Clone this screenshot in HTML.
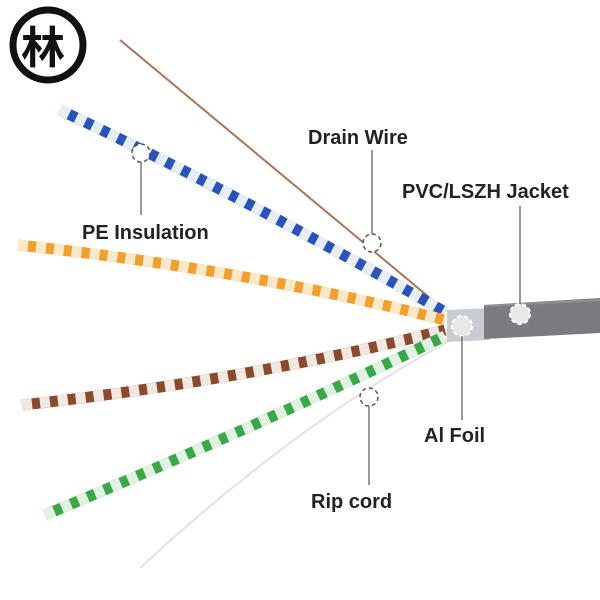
<!DOCTYPE html>
<html><head><style>
html,body{margin:0;padding:0;background:#fff}
svg{display:block}
text{font-family:"Liberation Sans",sans-serif;font-weight:bold;font-size:20px;fill:#222}
</style></head><body>
<svg width="600" height="600" viewBox="0 0 600 600" xmlns="http://www.w3.org/2000/svg">
<circle cx="48" cy="45" r="35" fill="none" stroke="#111" stroke-width="7"/>
<text x="21" y="63" style="font-family:'Noto Sans CJK SC',sans-serif;font-size:44px;fill:#111">林</text>
<line x1="120" y1="40" x2="442" y2="308" stroke="#a8765a" stroke-width="2"/>
<path d="M60,110 Q250,200 445,312" fill="none" stroke="#2a52b8" stroke-width="11"/>
<path d="M60,110 Q250,200 445,312" fill="none" stroke="#e8eef5" stroke-width="11" stroke-dasharray="10 8"/>
<path d="M18,245 Q250,270 445,320" fill="none" stroke="#f0a030" stroke-width="11"/>
<path d="M18,245 Q250,270 445,320" fill="none" stroke="#fbe8c8" stroke-width="11" stroke-dasharray="10 8"/>
<path d="M22,405 Q250,380 445,330" fill="none" stroke="#8a4a2e" stroke-width="11"/>
<path d="M22,405 Q250,380 445,330" fill="none" stroke="#f2e8e2" stroke-width="11" stroke-dasharray="10 8"/>
<path d="M45,515 Q250,430 445,336" fill="none" stroke="#3aa848" stroke-width="11"/>
<path d="M45,515 Q250,430 445,336" fill="none" stroke="#e2f2e2" stroke-width="11" stroke-dasharray="10 8"/>
<path d="M140,568 Q300,420 455,338" fill="none" stroke="#dde3ea" stroke-width="2"/>
<polygon points="447,310 490,308 490,340 447,342" fill="#c9ccd0"/>
<polygon points="484,305 600,298 600,333 484,339" fill="#7a7b7e"/>
<line x1="484" y1="306" x2="600" y2="300" stroke="#909194" stroke-width="2"/>
<g fill="#e8e8e8" stroke="#fff" stroke-width="2" stroke-dasharray="4 3">
<circle cx="520" cy="314" r="10"/>
<circle cx="462" cy="326" r="10"/>
</g>
<g fill="#fff" stroke="#555" stroke-width="1.5" stroke-dasharray="4 3">
<circle cx="372" cy="243" r="9"/>
<circle cx="141" cy="153" r="9"/>
<circle cx="369" cy="397" r="9"/>
</g>
<g stroke="#777" stroke-width="1.5">
<line x1="372" y1="234" x2="372" y2="150"/>
<line x1="141" y1="162" x2="141" y2="215"/>
<line x1="520" y1="304" x2="520" y2="206"/>
<line x1="462" y1="336" x2="462" y2="420"/>
<line x1="369" y1="406" x2="369" y2="485"/>
</g>
<text x="308" y="144">Drain Wire</text>
<text x="402" y="198">PVC/LSZH Jacket</text>
<text x="82" y="239">PE Insulation</text>
<text x="424" y="442">Al Foil</text>
<text x="311" y="508">Rip cord</text>
</svg>
</body></html>
